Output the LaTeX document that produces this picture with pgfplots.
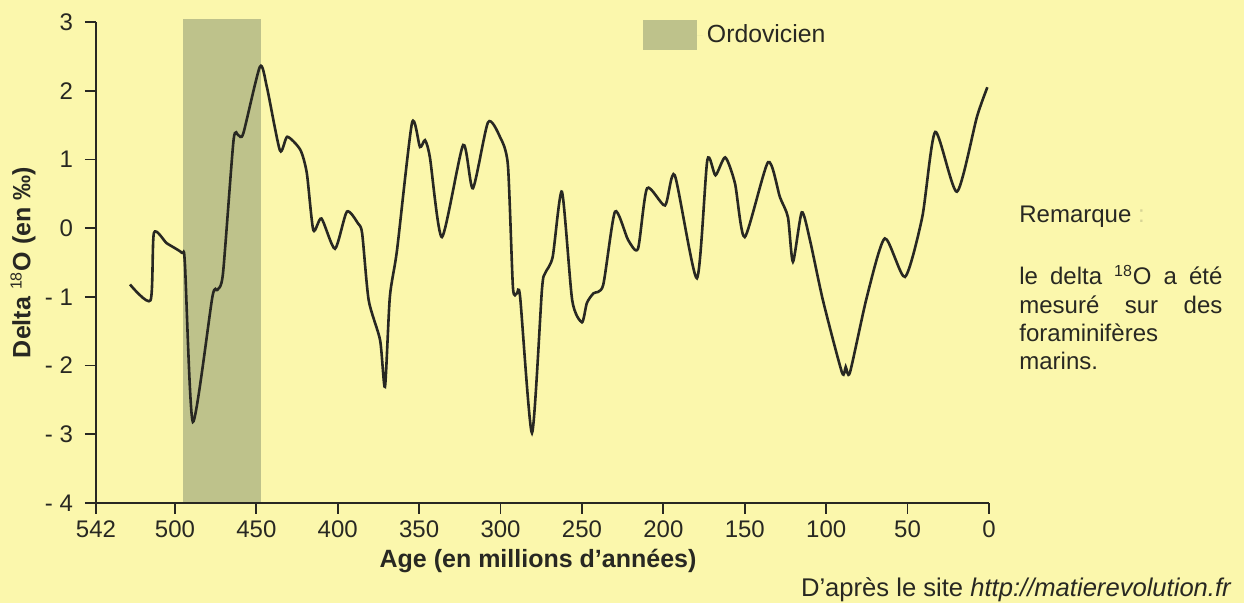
\documentclass[border=0pt]{standalone}
\usepackage{fontspec}
\setmainfont{Liberation Sans}
\usepackage{pgfplots}
\pgfplotsset{compat=1.18}
\definecolor{bg}{RGB}{251,247,172}
\definecolor{band}{RGB}{190,194,139}
\definecolor{ink}{RGB}{40,40,34}
\definecolor{colon}{RGB}{215,212,150}
\newcommand\fs{\fontsize{12}{14.4}\selectfont}
\newcommand\fb{\fontsize{12.5}{15}\selectfont\bfseries}
\begin{document}
\begin{tikzpicture}
\path[use as bounding box, fill=bg] (0,0) rectangle (622pt,301.5pt);
\begin{axis}[
  at={(48pt,50pt)}, anchor=south west,
  scale only axis, width=446.5pt, height=240.5pt,
  x dir=reverse, xmin=0, xmax=548.5, ymin=-4, ymax=3,
  axis lines*=left, axis line style={ink, line width=1pt},
  axis on top, clip=false,
  xtick={0,50,100,150,200,250,300,350,400,450,500,548.5},
  xticklabels={0,50,100,150,200,250,300,350,400,450,500,542},
  ytick={-4,-3,-2,-1,0,1,2,3},
  yticklabels={- 4,- 3,- 2,- 1,0,1,2,3},
  tick align=outside, major tick length=5.5pt,
  tick style={ink, line width=0.9pt},
  ticklabel style={font=\fs, text=ink},
  yticklabel style={xshift=-2.5pt},
  xlabel={Age (en millions d’années)},
  ylabel={Delta \textsuperscript{\fontsize{8}{9}\selectfont\mdseries 18}O (en ‰)},
  xlabel style={font=\fb, text=ink, at={(axis description cs:0.495,-0.135)}, anchor=base},
  ylabel style={font=\fb, text=ink, at={(axis description cs:-0.0817,0.5)}, anchor=center},
  legend style={at={(axis description cs:0.6125,0.973)}, anchor=west, draw=none, fill=none,
    inner sep=0pt, outer sep=0pt, font=\fontsize{12.4}{14.4}\selectfont, text=ink},
  legend cell align=left,
]
\addplot[fill=band, draw=none,
  legend image code/.code={\fill[band] (0pt,-7.5pt) rectangle (27pt,7.5pt);\path (0pt,0pt) rectangle (30pt,0pt);}]
  coordinates {(495,-4) (447.2,-4) (447.2,3.04) (495,3.04)} \closedcycle;
\addlegendentry{Ordovicien}
\addplot[ink, line width=1.3pt, smooth, tension=0.4, forget plot] coordinates {
(527.6,-0.82) (515,-1.05) (512.9,-0.07) (505,-0.22) (495.7,-0.36) (493.9,-0.51)
(489,-2.82) (477,-1.0) (474,-0.9) (470.5,-0.66) (464,1.28) (461,1.35) (458,1.38)
(447.8,2.35) (443.5,2.05) (435.5,1.13) (431,1.33) (423,1.14) (419,0.8) (415,-0.03)
(410,0.14) (401.7,-0.3) (394.4,0.24) (387.6,0.07) (385,-0.08) (381,-1.05) (374,-1.63)
(371,-2.31) (368,-1.0) (363.6,-0.32) (354.4,1.53) (349.5,1.18) (346.4,1.28) (343.4,1.03)
(336,-0.13) (323,1.21) (317,0.58) (307.7,1.54) (300.4,1.33) (295.5,0.92) (292.4,-0.86)
(290,-0.95) (288,-1.0) (280.7,-2.98) (274.6,-0.9) (272.7,-0.66) (268,-0.42) (262.3,0.53)
(256,-1.05) (250,-1.37) (247,-1.09) (243,-0.95) (237,-0.83) (229.7,0.24) (221.7,-0.17)
(215.6,-0.3) (210,0.58) (199,0.33) (193,0.77) (179.4,-0.73) (173,0.99) (168,0.77)
(162,1.03) (156,0.65) (150,-0.13) (135.7,0.96) (128.4,0.45) (123.5,0.16) (120.4,-0.49)
(115,0.23) (110,-0.17) (102,-1.05) (90.3,-2.1) (88,-2.02) (85.4,-2.1) (75,-1.0)
(64,-0.15) (51.6,-0.71) (41,0.16) (33,1.4) (19.7,0.53) (7.4,1.62) (1,2.05)
};
\end{axis}
\node[anchor=base west, font=\fs, text=ink, inner sep=0pt] at (509.5pt,190pt) {Remarque \textcolor{colon}{:}};
\node[anchor=base west, font=\fs, text=ink, inner sep=0pt] at (509.5pt,159pt) {\makebox[101.5pt][s]{le delta \textsuperscript{18}O a été}};
\node[anchor=base west, font=\fs, text=ink, inner sep=0pt] at (509.5pt,144.5pt) {\makebox[101.5pt][s]{mesuré sur des}};
\node[anchor=base west, font=\fs, text=ink, inner sep=0pt] at (509.5pt,130.5pt) {foraminifères};
\node[anchor=base west, font=\fs, text=ink, inner sep=0pt] at (509.5pt,116.5pt) {marins.};
\node[anchor=base east, font=\fontsize{12.8}{15}\selectfont, text=ink, inner sep=0pt] at (616pt,3pt) {D’après le site \textit{http://matierevolution.fr}};
\end{tikzpicture}
\end{document}
